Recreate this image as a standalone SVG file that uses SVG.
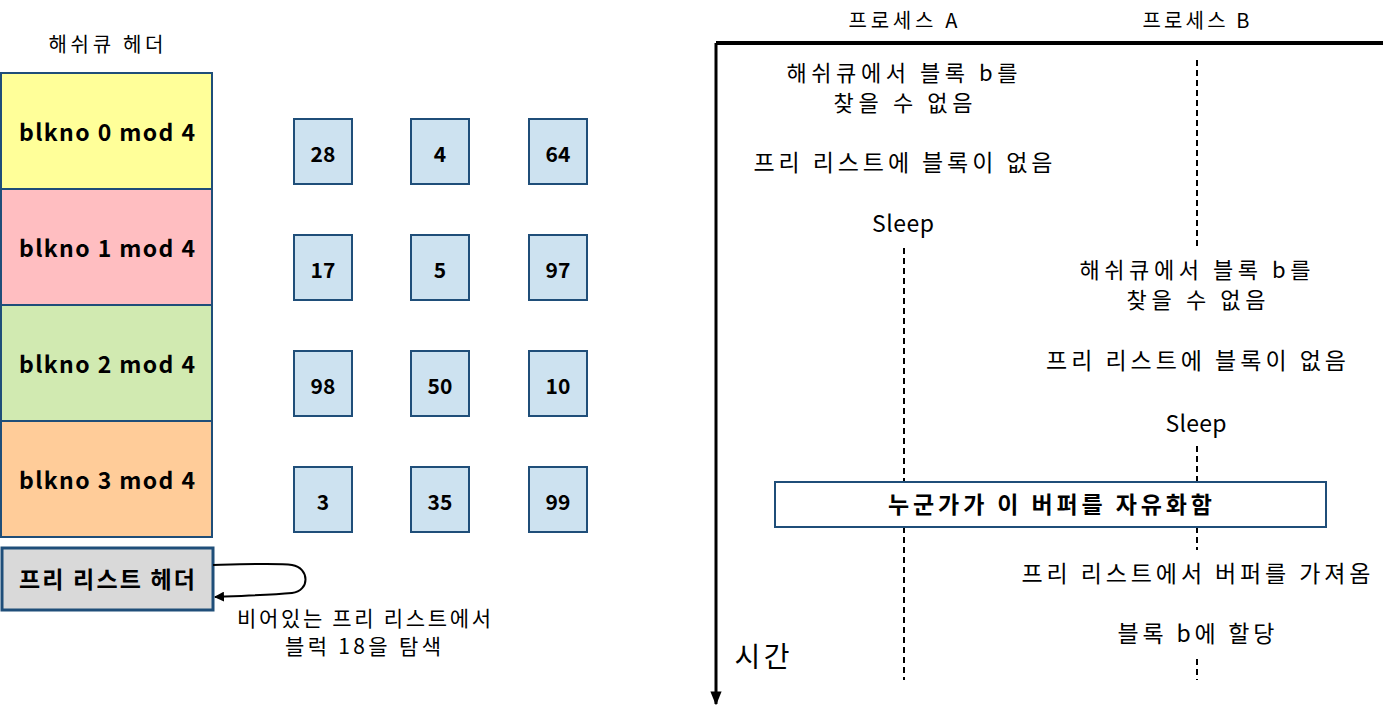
<svg xmlns="http://www.w3.org/2000/svg" width="1396" height="716" viewBox="0 0 1396 716">
<style>
  text { font-family: "Noto Sans CJK KR", "Noto Sans", "Liberation Sans", sans-serif; fill: #000; text-anchor: middle; }
  .hb { stroke: #1f4e79; stroke-width: 2; }
  .blk { fill: #cde2f0; stroke: #1f4e79; stroke-width: 2; }
  .lbl { font-size: 23px; font-weight: bold; }
  .num { font-size: 21px; font-weight: bold; }
  .t { font-size: 23px; }
  .t2 { font-size: 22px; }
  .dash { stroke: #000; stroke-width: 2; stroke-dasharray: 6 4; fill: none; }
</style>
<defs>
  <marker id="arr" viewBox="0 0 10 10" refX="9" refY="5" markerWidth="10" markerHeight="10" markerUnits="userSpaceOnUse" orient="auto">
    <path d="M0,0 L10,5 L0,10 z" fill="#000"/>
  </marker>
  <marker id="arrT" viewBox="0 0 10 10" refX="9" refY="5" markerWidth="14" markerHeight="14" markerUnits="userSpaceOnUse" orient="auto">
    <path d="M0,1 L10,5 L0,9 z" fill="#000"/>
  </marker>
</defs>
<rect width="1396" height="716" fill="#fff"/>

<text x="106" y="52" style="font-size:20px" textLength="115" lengthAdjust="spacing">해쉬큐 헤더</text>

<g id="hash0"><rect class="hb" x="1" y="73" width="211" height="116" fill="#ffff99"/><text class="lbl" x="107" y="141" textLength="176" lengthAdjust="spacing">blkno 0 mod 4</text></g>
<g id="hash1"><rect class="hb" x="1" y="189" width="211" height="116" fill="#ffbec1"/><text class="lbl" x="107" y="257" textLength="176" lengthAdjust="spacing">blkno 1 mod 4</text></g>
<g id="hash2"><rect class="hb" x="1" y="305" width="211" height="116" fill="#d1eab1"/><text class="lbl" x="107" y="373" textLength="176" lengthAdjust="spacing">blkno 2 mod 4</text></g>
<g id="hash3"><rect class="hb" x="1" y="421" width="211" height="116" fill="#ffcc99"/><text class="lbl" x="107" y="489" textLength="176" lengthAdjust="spacing">blkno 3 mod 4</text></g>

<g id="b28"><rect class="blk" x="294" y="119" width="58" height="65"/><text class="num" x="323" y="162">28</text></g>
<g id="b4"><rect class="blk" x="411" y="119" width="58" height="65"/><text class="num" x="440" y="162">4</text></g>
<g id="b64"><rect class="blk" x="529" y="119" width="58" height="65"/><text class="num" x="558" y="162">64</text></g>
<g id="b17"><rect class="blk" x="294" y="235" width="58" height="65"/><text class="num" x="323" y="278">17</text></g>
<g id="b5"><rect class="blk" x="411" y="235" width="58" height="65"/><text class="num" x="440" y="278">5</text></g>
<g id="b97"><rect class="blk" x="529" y="235" width="58" height="65"/><text class="num" x="558" y="278">97</text></g>
<g id="b98"><rect class="blk" x="294" y="351" width="58" height="65"/><text class="num" x="323" y="394">98</text></g>
<g id="b50"><rect class="blk" x="411" y="351" width="58" height="65"/><text class="num" x="440" y="394">50</text></g>
<g id="b10"><rect class="blk" x="529" y="351" width="58" height="65"/><text class="num" x="558" y="394">10</text></g>
<g id="b3"><rect class="blk" x="294" y="467" width="58" height="65"/><text class="num" x="323" y="510">3</text></g>
<g id="b35"><rect class="blk" x="411" y="467" width="58" height="65"/><text class="num" x="440" y="510">35</text></g>
<g id="b99"><rect class="blk" x="529" y="467" width="58" height="65"/><text class="num" x="558" y="510">99</text></g>

<g id="freehead"><rect x="2" y="548" width="211" height="62" fill="#d9d9d9" stroke="#1f4e79" stroke-width="3"/><text class="lbl" x="107" y="588" textLength="176" lengthAdjust="spacing">프리 리스트 헤더</text></g>

<g id="connectors">
  <path d="M213,565 C250,564 280,563 292,565 C310,568 310,591 292,593 C270,595 240,596 215,597" fill="none" stroke="#000" stroke-width="2" marker-end="url(#arr)"/>
  <line x1="716" y1="43" x2="1383" y2="43" stroke="#000" stroke-width="4"/>
  <line x1="716" y1="43" x2="716" y2="704" stroke="#000" stroke-width="3" marker-end="url(#arrT)"/>
  <path class="dash" d="M904,248 V482 M904,527 V680"/>
  <path class="dash" d="M1197,60 V248 M1197,446 V482 M1197,527 V550 M1197,659 V680"/>
</g>

<text style="font-size:21px"><tspan x="364" y="626" textLength="254" lengthAdjust="spacing">비어있는 프리 리스트에서</tspan><tspan x="363" y="654" textLength="156" lengthAdjust="spacing">블럭 18을 탐색</tspan></text>

<text x="903" y="28" style="font-size:20px" textLength="109" lengthAdjust="spacing">프로세스 A</text>
<text x="1196" y="28" style="font-size:20px" textLength="107" lengthAdjust="spacing">프로세스 B</text>
<text x="762" y="667" style="font-size:28px" textLength="55" lengthAdjust="spacing">시간</text>

<text class="t2"><tspan x="902" y="81" textLength="231" lengthAdjust="spacing">해쉬큐에서 블록 b를</tspan><tspan x="903" y="111" textLength="139" lengthAdjust="spacing">찾을 수 없음</tspan></text>
<text class="t" x="903" y="171" textLength="299" lengthAdjust="spacing">프리 리스트에 블록이 없음</text>
<text class="t" x="903" y="232" textLength="62" lengthAdjust="spacing">Sleep</text>

<text class="t2"><tspan x="1195" y="278" textLength="231" lengthAdjust="spacing">해쉬큐에서 블록 b를</tspan><tspan x="1196" y="308" textLength="139" lengthAdjust="spacing">찾을 수 없음</tspan></text>
<text class="t" x="1196" y="369" textLength="300" lengthAdjust="spacing">프리 리스트에 블록이 없음</text>
<text class="t" x="1196" y="432" textLength="61" lengthAdjust="spacing">Sleep</text>

<g id="freebox"><rect x="775" y="482" width="551" height="45" fill="#fff" stroke="#1f4e79" stroke-width="2"/><text class="lbl" x="1050" y="513" textLength="324" lengthAdjust="spacing">누군가가 이 버퍼를 자유화함</text></g>

<text class="t" x="1196" y="582" textLength="349" lengthAdjust="spacing">프리 리스트에서 버퍼를 가져옴</text>
<text class="t" x="1196" y="642" textLength="157" lengthAdjust="spacing">블록 b에 할당</text>
</svg>
